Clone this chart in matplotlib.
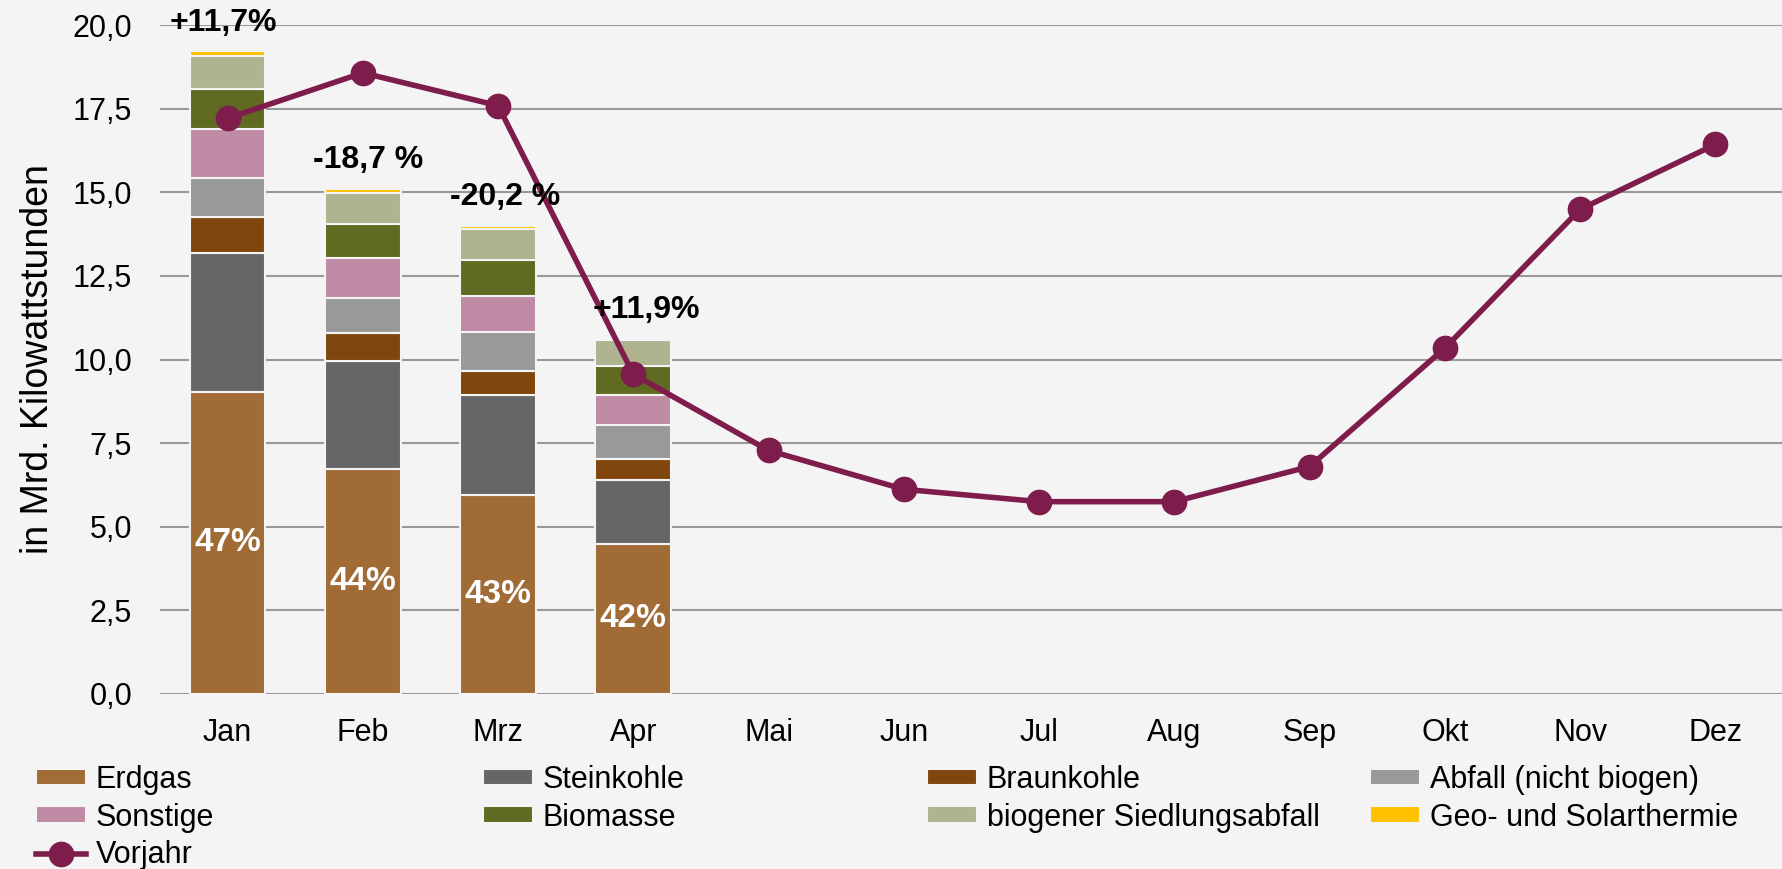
import matplotlib
matplotlib.use("Agg")
import matplotlib.pyplot as plt
import numpy as np

plt.rcParams['font.family'] = ['Liberation Sans', 'DejaVu Sans']

months = ["Jan", "Feb", "Mrz", "Apr", "Mai", "Jun", "Jul", "Aug", "Sep", "Okt", "Nov", "Dez"]

# Mrd. kWh, stacked from the bottom (Jan..Apr)
erdgas = [9.04, 6.74, 5.95, 4.49]
steinkohle = [4.15, 3.22, 2.98, 1.92]
braunkohle = [1.06, 0.82, 0.74, 0.62]
abfall = [1.18, 1.07, 1.15, 1.01]
sonstige = [1.45, 1.18, 1.08, 0.91]
biomasse = [1.21, 1.02, 1.06, 0.85]
siedlungsabfall = [0.99, 0.94, 0.95, 0.77]
geo_solar = [0.14, 0.11, 0.09, 0.06]

vorjahr = [17.21, 18.57, 17.59, 9.56, 7.28, 6.12, 5.75, 5.75, 6.80, 10.34, 14.49, 16.43]

change_labels = ["+11,7%", "-18,7 %", "-20,2 %", "+11,9%"]
share_labels = ["47%", "44%", "43%", "42%"]

series = [
    ("Erdgas", erdgas, "#A06B35"),
    ("Steinkohle", steinkohle, "#666666"),
    ("Braunkohle", braunkohle, "#7F460D"),
    ("Abfall (nicht biogen)", abfall, "#999999"),
    ("Sonstige", sonstige, "#BF8AA4"),
    ("Biomasse", biomasse, "#616A21"),
    ("biogener Siedlungsabfall", siedlungsabfall, "#B0B38F"),
    ("Geo- und Solarthermie", geo_solar, "#FFC000"),
]
line_color = "#7E1D4C"
bg = "#F4F4F4"

fig = plt.figure(figsize=(17.83, 8.69), dpi=100, facecolor=bg)
ax = fig.add_axes([0.0897, 0.2014, 0.9103, 0.7698])
ax.set_facecolor(bg)

x_all = np.arange(len(months))
x_bar = np.arange(len(erdgas))
bottom = np.zeros(len(erdgas))
handles = {}
for name, vals, col in series:
    h = ax.bar(x_bar, vals, 0.56, bottom=bottom, color=col, edgecolor=bg, linewidth=1.5, zorder=2, label=name)
    handles[name] = h
    bottom = bottom + np.array(vals)

# the change labels sit a little off-centre in the original
label_shift = [-0.03, 0.04, 0.05, 0.1]
for i in x_bar:
    ax.text(i, erdgas[i] / 2, share_labels[i], ha="center", va="center", color="white",
            fontsize=24, fontweight="bold", zorder=4)
    ax.text(i + label_shift[i], bottom[i] + 0.85, change_labels[i], ha="center", va="center",
            color="black", fontsize=23, fontweight="bold", zorder=4, clip_on=False)

ln, = ax.plot(x_all, vorjahr, color=line_color, linewidth=4, marker="o", markersize=17.5,
              zorder=3, clip_on=False, label="Vorjahr")

ax.set_xlim(-0.5, 11.5)
ax.set_ylim(0, 20)
yt = np.arange(0, 20.1, 2.5)
ax.set_yticks(yt)
ax.set_yticklabels([f"{v:.1f}".replace(".", ",") for v in yt])
ax.set_xticks(x_all)
ax.set_xticklabels(months)
ax.tick_params(axis="both", length=0, colors="black")
ax.tick_params(axis="x", pad=17, labelsize=22)
ax.tick_params(axis="y", pad=20, labelsize=22)
ax.yaxis.grid(True, color="#999999", linewidth=1.5, zorder=0)
ax.set_axisbelow(True)
for s in ax.spines.values():
    s.set_visible(False)
ax.set_ylabel("in Mrd. Kilowattstunden", fontsize=27, labelpad=12)

# legend: four fixed columns, placed by hand like the original
columns = [["Erdgas", "Sonstige", "Vorjahr"],
           ["Steinkohle", "Biomasse"],
           ["Braunkohle", "biogener Siedlungsabfall"],
           ["Abfall (nicht biogen)", "Geo- und Solarthermie"]]
col_x = [36, 483, 927, 1370]
W, H = 1783, 869
for names, cx in zip(columns, col_x):
    hl = [ln if n == "Vorjahr" else handles[n] for n in names]
    fig.legend(hl, names, loc="upper left", bbox_to_anchor=(cx / W, 1 - 765 / H),
               frameon=False, fontsize=22, handlelength=1.65, handleheight=0.46,
               handletextpad=0.3, labelspacing=0.25, borderaxespad=0, borderpad=0)

fig.savefig("out.png", dpi=100, facecolor=bg)
